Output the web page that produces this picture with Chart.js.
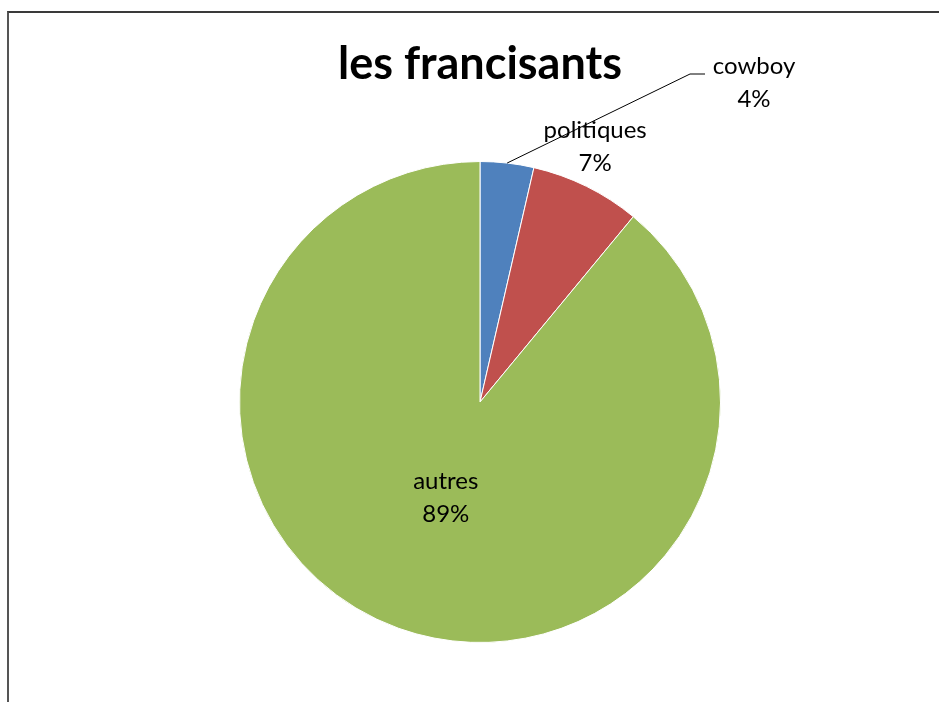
<!DOCTYPE html>
<html><head><meta charset="utf-8">
<script src="https://cdn.jsdelivr.net/npm/chart.js@4"></script>
<style>
html,body{margin:0;padding:0;background:#fff;}
#frame{position:absolute;left:7px;top:11px;width:940px;height:700px;border-top:2px solid #3a3a3a;border-left:2px solid #555;}
#wrap{position:absolute;left:0;top:0;width:939px;height:702px;}
</style></head>
<body>
<div id="frame"></div>
<div id="wrap"><canvas id="c" width="939" height="702"></canvas></div>
<script>
const categories = ["cowboy", "politiques", "autres"];
const values = [3.6, 7.4, 89.0];
const colors = ["#4F81BD", "#C0504D", "#9BBB59"];
const titleText = "les francisants";

const FONT = "Lato, 'Open Sans', sans-serif";

const labelPlugin = {
  id: 'pieLabels',
  afterDatasetsDraw(chart) {
    const ctx = chart.ctx;
    const meta = chart.getDatasetMeta(0);
    const total = values.reduce((a, b) => a + b, 0);
    ctx.save();
    ctx.font = "24px " + FONT;
    ctx.fillStyle = "#000";
    ctx.textAlign = "center";
    ctx.textBaseline = "middle";
    meta.data.forEach((arc, i) => {
      const p = arc.getProps(['x', 'y', 'startAngle', 'endAngle', 'outerRadius'], true);
      const mid = (p.startAngle + p.endAngle) / 2;
      const pct = Math.round(values[i] / total * 100) + "%";
      let lx, ly;
      if (i === 2) {
        lx = p.x + Math.cos(mid) * p.outerRadius * 0.42;
        ly = p.y + Math.sin(mid) * p.outerRadius * 0.42;
      } else if (i === 1) {
        const ang = mid - 0.035;
        lx = p.x + Math.cos(ang) * p.outerRadius * 1.165;
        ly = p.y + Math.sin(ang) * p.outerRadius * 1.165;
      } else {
        lx = p.x + 274;
        ly = p.y - 320;
        const sx = p.x + Math.cos(mid) * p.outerRadius;
        const sy = p.y + Math.sin(mid) * p.outerRadius;
        ctx.beginPath();
        ctx.strokeStyle = "#000";
        ctx.lineWidth = 1;
        ctx.moveTo(sx, sy);
        ctx.lineTo(lx - 64, ly - 8);
        ctx.lineTo(lx - 49, ly - 8);
        ctx.stroke();
      }
      ctx.fillText(categories[i], lx, ly - 16);
      ctx.fillText(pct, lx, ly + 17);
    });
    ctx.restore();
  }
};

new Chart(document.getElementById('c'), {
  type: 'pie',
  data: {
    labels: categories,
    datasets: [{
      data: values,
      backgroundColor: colors,
      borderColor: "#ffffff",
      borderWidth: 1
    }]
  },
  options: {
    responsive: false,
    animation: false,
    layout: { padding: { top: 0, bottom: 59, left: 21, right: 0 } },
    plugins: {
      legend: { display: false },
      tooltip: { enabled: false },
      title: {
        display: true,
        text: titleText,
        color: "#000",
        font: { family: FONT, size: 45, weight: 'bold', lineHeight: 1.2 },
        padding: { top: 37, bottom: 70 }
      }
    }
  },
  plugins: [labelPlugin]
});
</script>
</body></html>
